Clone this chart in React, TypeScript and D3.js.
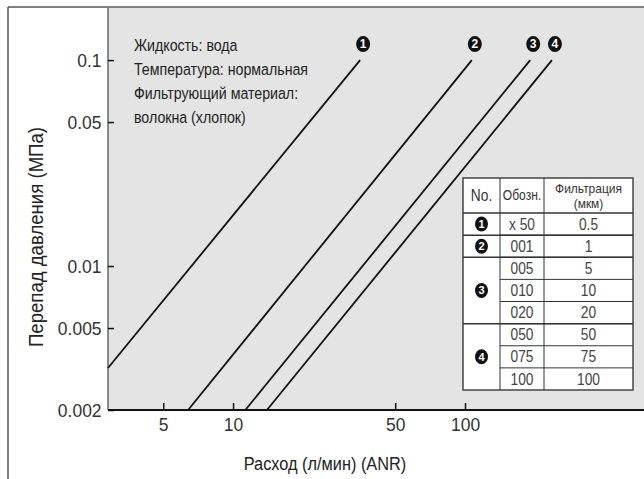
import * as d3 from 'd3'
import { useEffect, useRef } from 'react'

// pressure drop vs flow, log-log
const seriesIds = ['1', '2', '3', '4']
const flowStart = [2.89, 6.4, 11.3, 14.0]
const pressStart = [0.0032, 0.002, 0.002, 0.002]
const flowEnd = [35.3, 107, 191, 237]
const pressEnd = [0.1, 0.1, 0.1, 0.1]

const xTicks = [5, 10, 50, 100]
const yTicks = [0.1, 0.05, 0.01, 0.005, 0.002]

const notes = ['Жидкость: вода', 'Температура: нормальная', 'Фильтрующий материал:', 'волокна (хлопок)']

// table
const groupIds = ['1', '2', '3', '4']
const groupSizes = [1, 1, 3, 3]
const codes = ['x 50', '001', '005', '010', '020', '050', '075', '100']
const filtration = ['0.5', '1', '5', '10', '20', '50', '75', '100']

const FONT = '"Liberation Sans", Arial, sans-serif'
const SX = 0.86 // fake condensed face

const App = () => {
  const svgRef = useRef<SVGSVGElement>(null)

  useEffect(() => {
    const svg = d3.select(svgRef.current)
    svg.selectAll('*').remove()

    const left = 108
    const right = 644
    const top = 8
    const bottom = 410

    const x = d3.scaleLog().domain([2.89, 591]).range([left, right])
    const y = d3.scaleLog().domain([0.002, 0.179]).range([bottom, top])

    // condensed text placed at (tx, ty)
    const ctext = (parent, str, tx, ty, size, anchor = 'start', fill = '#222', sx = SX) =>
      parent.append('text').text(str)
        .attr('transform', `translate(${tx},${ty}) scale(${sx},1)`)
        .attr('dy', '0.35em').attr('text-anchor', anchor)
        .attr('font-family', FONT).attr('font-size', size).attr('fill', fill)

    // outer frame
    svg.append('line').attr('x1', 8).attr('x2', 644).attr('y1', 7).attr('y2', 7)
      .attr('stroke', '#555').attr('stroke-width', 1.5)
    svg.append('line').attr('x1', 8).attr('x2', 8).attr('y1', 7).attr('y2', 479)
      .attr('stroke', '#555').attr('stroke-width', 1.5)

    // plot background
    svg.append('rect').attr('x', left).attr('y', top).attr('width', right - left).attr('height', bottom - top)
      .attr('fill', '#e4e4e4')
    svg.append('line').attr('x1', left).attr('x2', left).attr('y1', top).attr('y2', bottom)
      .attr('stroke', '#666').attr('stroke-width', 1.5)

    // y ticks
    const yg = svg.append('g').attr('transform', `translate(${left},0)`)
      .call(d3.axisLeft(y).tickValues(yTicks).tickSize(-6).tickPadding(7).tickFormat((d) => `${d}`))
    yg.select('.domain').remove()
    yg.selectAll('line').attr('stroke', '#111').attr('stroke-width', 1.5)
    yg.selectAll('text').attr('font-family', FONT).attr('font-size', 19).attr('fill', '#333')
      .attr('transform', 'scale(0.92,1)')

    // x axis
    const xg = svg.append('g').attr('transform', `translate(0,${bottom})`)
      .call(d3.axisBottom(x).tickValues(xTicks).tickSize(-7).tickPadding(8).tickFormat((d) => `${d}`))
    xg.select('.domain').remove()
    xg.selectAll('line').attr('stroke', '#111').attr('stroke-width', 1.5)
    xg.selectAll('text').attr('font-family', FONT).attr('font-size', 19).attr('fill', '#333')
      .attr('transform', 'scale(0.92,1)')
    svg.append('line').attr('x1', left).attr('x2', right).attr('y1', bottom).attr('y2', bottom)
      .attr('stroke', '#111').attr('stroke-width', 2)

    // curves
    const lineGen = d3.line<[number, number]>().x((d) => x(d[0])).y((d) => y(d[1]))
    seriesIds.forEach((id, i) => {
      svg.append('path')
        .attr('d', lineGen([[flowStart[i], pressStart[i]], [flowEnd[i], pressEnd[i]]]))
        .attr('stroke', '#111').attr('stroke-width', 1.8).attr('fill', 'none')
      const g = svg.append('g').attr('transform', `translate(${x(flowEnd[i]) + 3},${y(pressEnd[i]) - 16})`)
      g.append('ellipse').attr('rx', 7).attr('ry', 8).attr('fill', '#111')
      g.append('text').text(id).attr('text-anchor', 'middle').attr('dy', '0.36em')
        .attr('font-family', FONT).attr('font-weight', 'bold').attr('font-size', 12).attr('fill', '#fff')
    })

    // notes
    notes.forEach((d, i) => ctext(svg, d, 134, 45 + i * 24.2, 16.5, 'start', '#222'))

    // table
    const tx0 = 463
    const tx1 = 500
    const tx2 = 544
    const tx3 = 633
    const ty0 = 178
    const headH = 35
    const rowH = (390 - ty0 - headH) / codes.length
    const rowY = (i: number) => ty0 + headH + i * rowH
    const tbl = svg.append('g')
    tbl.append('rect').attr('x', tx0).attr('y', ty0).attr('width', tx3 - tx0).attr('height', 390 - ty0)
      .attr('fill', '#fff').attr('stroke', '#444').attr('stroke-width', 1.5)
    ;[tx1, tx2].forEach((cx) => {
      tbl.append('line').attr('x1', cx).attr('x2', cx).attr('y1', ty0).attr('y2', 390)
        .attr('stroke', '#333').attr('stroke-width', 1)
    })
    // header
    tbl.append('line').attr('x1', tx0).attr('x2', tx3).attr('y1', ty0 + headH).attr('y2', ty0 + headH)
      .attr('stroke', '#333').attr('stroke-width', 1.5)
    ctext(tbl, 'No.', (tx0 + tx1) / 2, ty0 + headH / 2, 16, 'middle', '#333')
    ctext(tbl, 'Обозн.', (tx1 + tx2) / 2, ty0 + headH / 2, 14, 'middle', '#333', 0.86)
    ctext(tbl, 'Фильтрация', (tx2 + tx3) / 2, ty0 + 10, 13, 'middle', '#333', 0.92)
    ctext(tbl, '(мкм)', (tx2 + tx3) / 2, ty0 + 25, 13, 'middle', '#333', 0.92)

    // rows
    codes.forEach((c, i) => {
      if (i > 0) {
        tbl.append('line').attr('x1', tx1).attr('x2', tx3).attr('y1', rowY(i)).attr('y2', rowY(i))
          .attr('stroke', '#333').attr('stroke-width', 1)
      }
      ctext(tbl, c, (tx1 + tx2) / 2, rowY(i) + rowH / 2, 16, 'middle', '#444')
      ctext(tbl, filtration[i], (tx2 + tx3) / 2, rowY(i) + rowH / 2, 16, 'middle', '#444')
    })

    // groups in No. column
    let start = 0
    groupIds.forEach((id, gi) => {
      const size = groupSizes[gi]
      if (start > 0) {
        tbl.append('line').attr('x1', tx0).attr('x2', tx3).attr('y1', rowY(start)).attr('y2', rowY(start))
          .attr('stroke', '#333').attr('stroke-width', 1.5)
      }
      const cy = rowY(start) + (size * rowH) / 2
      const g = tbl.append('g').attr('transform', `translate(${(tx0 + tx1) / 2},${cy})`)
      g.append('ellipse').attr('rx', 6.5).attr('ry', 7.5).attr('fill', '#111')
      g.append('text').text(id).attr('text-anchor', 'middle').attr('dy', '0.36em')
        .attr('font-family', FONT).attr('font-weight', 'bold').attr('font-size', 11).attr('fill', '#fff')
      start += size
    })

    // axis titles
    ctext(svg, 'Расход (л/мин) (ANR)', 325, 463, 19, 'middle', '#222')
    svg.append('text').text('Перепад давления (МПа)')
      .attr('transform', 'translate(36,237) rotate(-90) scale(0.93,1)')
      .attr('dy', '0.35em').attr('text-anchor', 'middle')
      .attr('font-family', FONT).attr('font-size', 20).attr('fill', '#222')
  }, [])

  return (
    <svg ref={svgRef} width={644} height={479}
      style={{ position: 'absolute', left: 0, top: 0, background: '#fff' }} />
  )
}

export default App
